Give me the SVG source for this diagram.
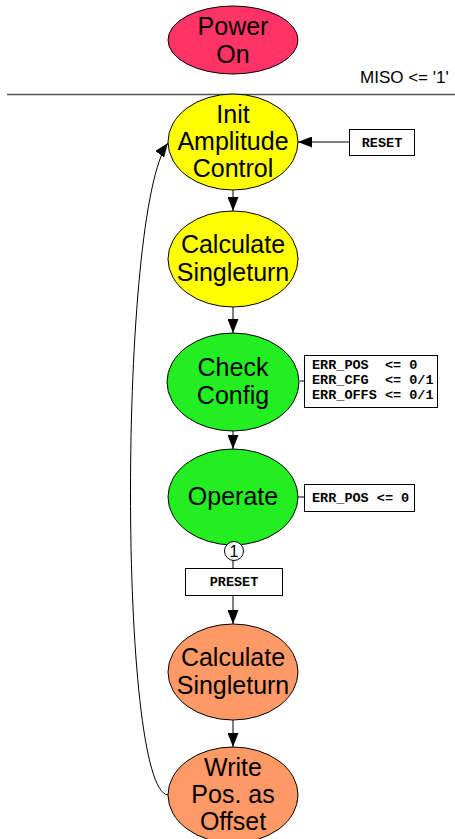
<svg xmlns="http://www.w3.org/2000/svg" width="455" height="839" viewBox="0 0 455 839">
<style>
.st{stroke:#000;stroke-width:1}
.lbl{font-family:"Liberation Sans",Arial,sans-serif;font-size:25px;fill:#000;text-anchor:middle}
.box{fill:#fff;stroke:#000;stroke-width:1}
.mono{font-family:"Liberation Mono","Courier New",monospace;font-weight:bold;font-size:13.5px;fill:#000;white-space:pre}
.c{fill:none;stroke:#000;stroke-width:1}
</style>
<defs>
<marker id="ah" viewBox="0 0 14 11" refX="14" refY="5.5" markerWidth="14" markerHeight="11" markerUnits="userSpaceOnUse" orient="auto">
<path d="M0,0 L14,5.5 L0,11 Z" fill="#000"/>
</marker>
</defs>
<rect width="455" height="839" fill="#fff"/>
<line x1="7" y1="94.5" x2="455" y2="94.5" stroke="#555" stroke-width="1.3"/>
<text x="360" y="83" font-family="Liberation Sans,Arial,sans-serif" font-size="17" fill="#000">MISO &lt;= '1'</text>
<g id="connectors">
<line class="c" x1="349" y1="142" x2="298" y2="142" marker-end="url(#ah)"/>
<line class="c" x1="233" y1="190" x2="233" y2="211" marker-end="url(#ah)"/>
<line class="c" x1="233" y1="307" x2="233" y2="333" marker-end="url(#ah)"/>
<line class="c" x1="233" y1="431" x2="233" y2="449" marker-end="url(#ah)"/>
<line class="c" x1="300" y1="381" x2="304" y2="381"/>
<line class="c" x1="298" y1="497" x2="304" y2="497"/>
<line class="c" x1="233" y1="560" x2="233" y2="568"/>
<line class="c" x1="233" y1="595" x2="233" y2="624" marker-end="url(#ah)"/>
<line class="c" x1="233" y1="720" x2="233" y2="747" marker-end="url(#ah)"/>
<path class="c" d="M168,795 C118,790 118,210 168,143" marker-end="url(#ah)"/>
</g>
<g id="power-on">
<ellipse class="st" cx="233" cy="40" rx="65" ry="34" fill="#ff3366"/>
<text class="lbl" x="233" y="35">Power</text>
<text class="lbl" x="233" y="63">On</text>
</g>
<g id="init-amplitude">
<ellipse class="st" cx="233" cy="142" rx="65" ry="48" fill="#ffff00"/>
<text class="lbl" x="233" y="123">Init</text>
<text class="lbl" x="233" y="150">Amplitude</text>
<text class="lbl" x="233" y="177">Control</text>
</g>
<g id="reset">
<rect class="box" x="349.5" y="129.5" width="65" height="26"/>
<text class="mono" x="382" y="146.5" text-anchor="middle">RESET</text>
</g>
<g id="calc-singleturn-1">
<ellipse class="st" cx="233" cy="259" rx="65" ry="48" fill="#ffff00"/>
<text class="lbl" x="233" y="253">Calculate</text>
<text class="lbl" x="233" y="281">Singleturn</text>
</g>
<g id="check-config">
<ellipse class="st" cx="233" cy="382" rx="66" ry="49" fill="#22ee22"/>
<text class="lbl" x="233" y="376">Check</text>
<text class="lbl" x="233" y="404">Config</text>
</g>
<g id="check-config-box">
<rect class="box" x="304.5" y="355.5" width="133" height="52"/>
<text class="mono" x="312" y="369">ERR_POS  &lt;= 0</text>
<text class="mono" x="312" y="384">ERR_CFG  &lt;= 0/1</text>
<text class="mono" x="312" y="399">ERR_OFFS &lt;= 0/1</text>
</g>
<g id="operate">
<ellipse class="st" cx="233" cy="497" rx="65" ry="48" fill="#22ee22"/>
<text class="lbl" x="233" y="505">Operate</text>
</g>
<g id="operate-box">
<rect class="box" x="304.5" y="484.5" width="110" height="27"/>
<text class="mono" x="312" y="502">ERR_POS &lt;= 0</text>
</g>
<g id="marker-1">
<circle cx="234" cy="551" r="9.5" fill="#fff" stroke="#000" stroke-width="1"/>
<text x="234" y="557" font-family="Liberation Sans,Arial,sans-serif" font-size="16" text-anchor="middle" fill="#000">1</text>
</g>
<g id="preset">
<rect class="box" x="185.5" y="568.5" width="97" height="27"/>
<text class="mono" x="234" y="586" text-anchor="middle">PRESET</text>
</g>
<g id="calc-singleturn-2">
<ellipse class="st" cx="233" cy="672" rx="65" ry="48" fill="#ff9966"/>
<text class="lbl" x="233" y="666">Calculate</text>
<text class="lbl" x="233" y="694">Singleturn</text>
</g>
<g id="write-pos">
<ellipse class="st" cx="233" cy="795" rx="65" ry="48" fill="#ff9966"/>
<text class="lbl" x="233" y="776">Write</text>
<text class="lbl" x="233" y="803">Pos. as</text>
<text class="lbl" x="233" y="830">Offset</text>
</g>
</svg>
